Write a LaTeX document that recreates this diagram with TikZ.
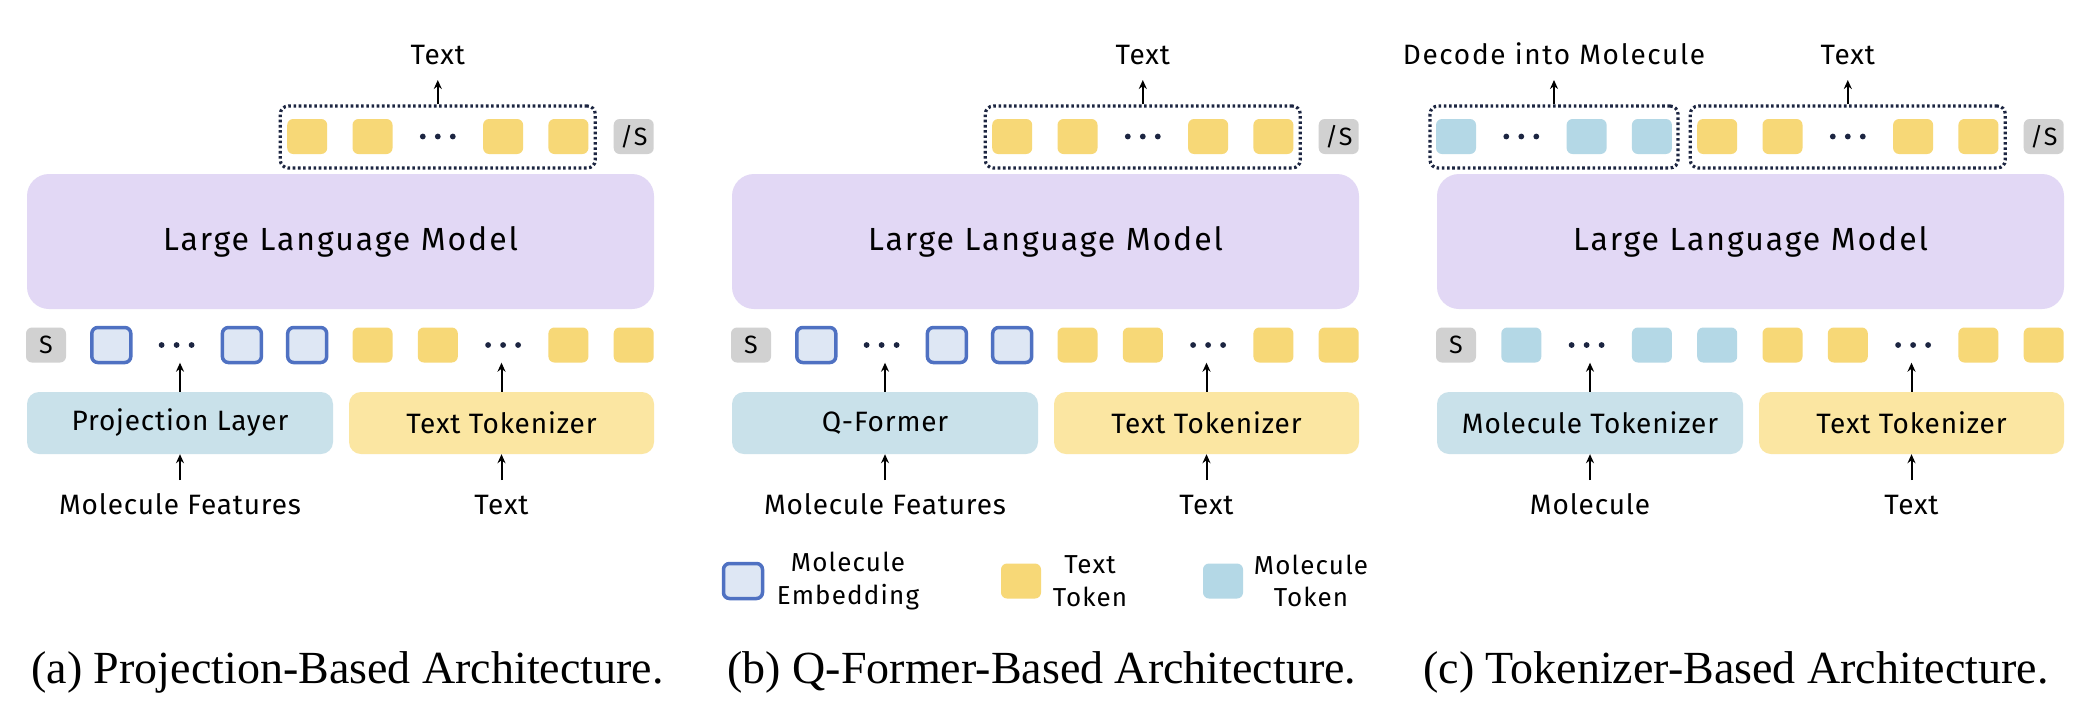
\documentclass[tikz,border=0pt]{standalone}
\usepackage{fontspec}
\setmainfont{Fira Sans}[LetterSpace=3]
\newfontfamily\capfont{Liberation Serif}
\usetikzlibrary{arrows.meta}
\definecolor{llmc}{HTML}{E2D8F5}
\definecolor{molbox}{HTML}{C9E1EA}
\definecolor{txtbox}{HTML}{FBE6A2}
\definecolor{ytok}{HTML}{F7D877}
\definecolor{btok}{HTML}{B4D8E6}
\definecolor{embf}{HTML}{DEE7F4}
\definecolor{embd}{HTML}{4F71C2}
\definecolor{graytok}{HTML}{D1D1D1}
\definecolor{navy}{HTML}{1C2541}
\tikzset{
 tok/.style={rectangle, rounded corners=6pt, minimum width=40pt, minimum height=35pt, inner sep=0pt},
 ytk/.style={tok, fill=ytok},
 btk/.style={tok, fill=btok},
 emb/.style={tok, fill=embf, draw=embd, line width=3.5pt, minimum width=39pt, minimum height=35pt},
 gtk/.style={tok, fill=graytok, font=\fontsize{25}{25}\selectfont},
 dotsn/.style={tok, path picture={
   \fill[navy] (path picture bounding box.center) circle[radius=2.9pt];
   \fill[navy] ([xshift=-15pt]path picture bounding box.center) circle[radius=2.9pt];
   \fill[navy] ([xshift=15pt]path picture bounding box.center) circle[radius=2.9pt];}},
 grp/.style={rectangle, draw=navy, line width=3.2pt, dash pattern=on 2.6pt off 2.6pt, rounded corners=8pt, minimum height=62pt, inner sep=0pt},
 llm/.style={rectangle, fill=llmc, rounded corners=22pt, minimum width=627pt, minimum height=135pt, font=\fontsize{32}{36}\selectfont\addfontfeature{LetterSpace=6}},
 enc/.style={rectangle, rounded corners=12pt, minimum height=62pt, inner sep=0pt, font=\fontsize{28}{32}\selectfont},
 lbl/.style={inner xsep=0pt, inner ysep=15pt, text height=19.5pt, text depth=0pt, font=\fontsize{28}{32}\selectfont},
 widelbl/.style={lbl, font=\fontsize{28}{32}\selectfont\addfontfeature{LetterSpace=6}},
 arr/.style={line width=2pt, -{Stealth[length=9pt, width=8pt]}},
 leg/.style={align=center, font=\fontsize{26}{32.5}\selectfont\addfontfeature{LetterSpace=4.5}, inner sep=0pt},
 captxt/.style={font=\capfont\fontsize{46}{50}\selectfont, anchor=base, inner sep=0pt},
}
\newcommand\commonpanel[1]{%
 \node[llm] (llm#1) at (340.5,241.5) {Large Language Model};
 \node[ytk] (t4#1) at (307.2,136.5) {};
 \node[ytk] (t5#1) at (372.5,136.5) {};
 \node[dotsn] (t6#1) at (437.8,136.5) {};
 \node[ytk] (t7#1) at (503.1,136.5) {};
 \node[ytk] (t8#1) at (568.4,136.5) {};
 \node[gtk] (t9#1) at (633.7,136.5) {/S};
 \node[grp, minimum width=315pt] (gt#1) at (437.8,137) {};
 \node[lbl, anchor=south] (ot#1) at (437.8,80) {Text};
 \draw[arr] (gt#1.north) -- (ot#1.south);
 \node[gtk] (b0#1) at (46,345) {S};
 \node[ytk] (b5#1) at (372.5,345) {};
 \node[ytk] (b6#1) at (437.8,345) {};
 \node[dotsn] (b7#1) at (503.1,345) {};
 \node[ytk] (b8#1) at (568.4,345) {};
 \node[ytk] (b9#1) at (633.7,345) {};
 \node[enc, fill=txtbox, minimum width=305pt] (tt#1) at (501.5,423) {Text Tokenizer};
 \node[lbl, anchor=north] (it#1) at (501.5,480) {Text};
 \draw[arr] (it#1.north) -- (tt#1.south);
 \draw[arr] (tt#1.north) -- (tt#1.north |- b7#1.south);
}
\begin{document}
\begin{tikzpicture}[x=1pt, y=-1pt]
\fill[white] (0,0) rectangle (2088,724);
\useasboundingbox (0,0) rectangle (2088,724);
% ---------- panel a ----------
\commonpanel{a}
\node[emb] (b1a) at (111.3,345) {};
\node[dotsn] (b2a) at (176.6,345) {};
\node[emb] (b3a) at (241.9,345) {};
\node[emb] (b4a) at (307.2,345) {};
\node[enc, fill=molbox, minimum width=306pt] (ma) at (180,423) {Projection Layer};
\node[lbl, anchor=north] (ima) at (180,480) {Molecule Features};
\draw[arr] (ima.north) -- (ma.south);
\draw[arr] (ma.north) -- (ma.north |- b2a.south);
% ---------- panel b ----------
\begin{scope}[xshift=705pt]
\commonpanel{b}
\node[emb] (b1b) at (111.3,345) {};
\node[dotsn] (b2b) at (176.6,345) {};
\node[emb] (b3b) at (241.9,345) {};
\node[emb] (b4b) at (307.2,345) {};
\node[enc, fill=molbox, minimum width=306pt] (mb) at (180,423) {Q-Former};
\node[lbl, anchor=north] (imb) at (180,480) {Molecule Features};
\draw[arr] (imb.north) -- (mb.south);
\draw[arr] (mb.north) -- (mb.north |- b2b.south);
\end{scope}
% ---------- panel c ----------
\begin{scope}[xshift=1410pt]
\commonpanel{c}
\node[btk] (t0c) at (46,136.5) {};
\node[dotsn] (t1c) at (111.3,136.5) {};
\node[btk] (t2c) at (176.6,136.5) {};
\node[btk] (t3c) at (241.9,136.5) {};
\node[grp, minimum width=248pt] (gmc) at (144,137) {};
\node[widelbl, anchor=south] (omc) at (144,80) {Decode into Molecule};
\draw[arr] (gmc.north) -- (omc.south);
\node[btk] (b1c) at (111.3,345) {};
\node[dotsn] (b2c) at (176.6,345) {};
\node[btk] (b3c) at (241.9,345) {};
\node[btk] (b4c) at (307.2,345) {};
\node[enc, fill=molbox, minimum width=306pt] (mc) at (180,423) {Molecule Tokenizer};
\node[lbl, anchor=north] (imc) at (180,480) {Molecule};
\draw[arr] (imc.north) -- (mc.south);
\draw[arr] (mc.north) -- (mc.north |- b2c.south);
\end{scope}
% ---------- legend ----------
\node[emb] (le1) at (743,581) {};
\node[leg] (lt1) at (848,581) {Molecule\\Embedding};
\node[ytk] (le2) at (1021,581) {};
\node[leg] (lt2) at (1090,581) {Text\\Token};
\node[btk] (le3) at (1223,581) {};
\node[leg] (lt3) at (1311,581) {Molecule\\Token};
% ---------- captions ----------
\node[captxt] (capa) at (347.5,683) {(a) Projection-Based Architecture.};
\node[captxt] (capb) at (1042,683) {(b) Q-Former-Based Architecture.};
\node[captxt] (capc) at (1736,683) {(c) Tokenizer-Based Architecture.};
\end{tikzpicture}
\end{document}
